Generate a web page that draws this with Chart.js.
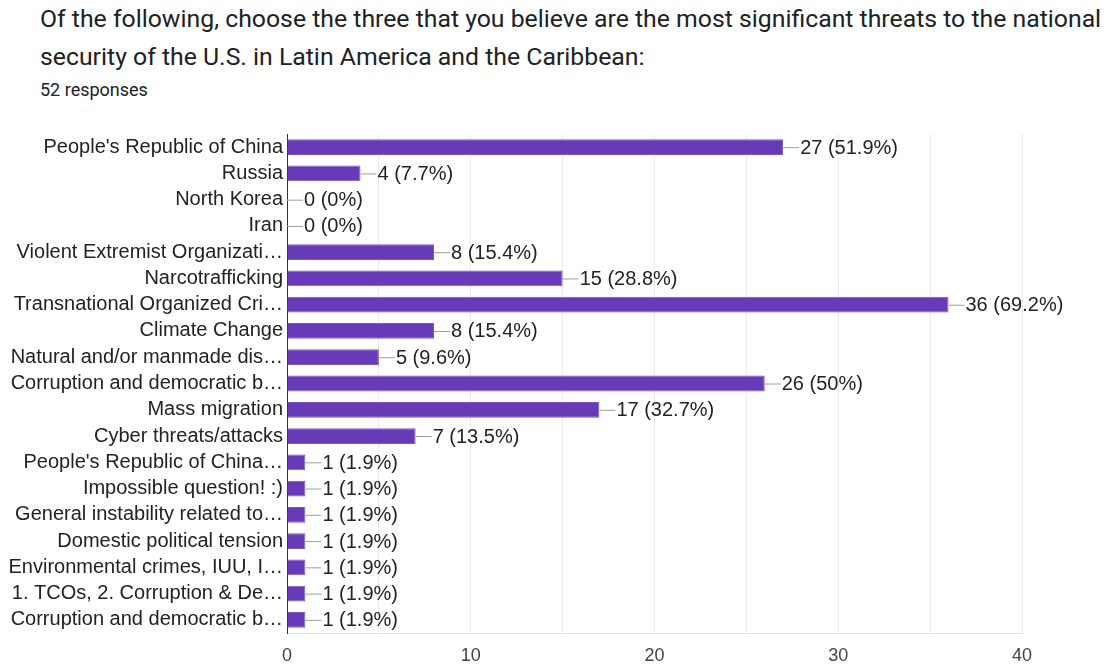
<!DOCTYPE html>
<html>
<head>
<meta charset="utf-8">
<script src="https://cdn.jsdelivr.net/npm/chart.js@4"></script>
<style>
  body { margin: 0; background: #fff; width: 1104px; height: 666px; overflow: hidden; position: relative; font-family: Roboto, Arial, sans-serif; }
  .title { position: absolute; left: 40px; top: 0px; font-size: 24.8px; line-height: 38px; color: #202124; white-space: nowrap; }
  .sub { position: absolute; left: 40px; top: 80px; font-size: 18px; line-height: 20px; color: #202124; }
  #wrap { position: absolute; left: 0; top: 110px; width: 1104px; height: 556px; }
</style>
</head>
<body>
<div class="title">Of the following, choose the three that you believe are the most significant threats to the national<br>security of the U.S. in Latin America and the Caribbean:</div>
<div class="sub">52 responses</div>
<div id="wrap"><canvas id="chart" width="1104" height="556"></canvas></div>
<script>
const categories = [
  "People's Republic of China",
  "Russia",
  "North Korea",
  "Iran",
  "Violent Extremist Organizati\u2026",
  "Narcotrafficking",
  "Transnational Organized Cri\u2026",
  "Climate Change",
  "Natural and/or manmade dis\u2026",
  "Corruption and democratic b\u2026",
  "Mass migration",
  "Cyber threats/attacks",
  "People's Republic of China\u2026",
  "Impossible question! :)",
  "General instability related to\u2026",
  "Domestic political tension",
  "Environmental crimes, IUU, I\u2026",
  "1. TCOs, 2. Corruption & De\u2026",
  "Corruption and democratic b\u2026"
];
const counts = [27, 4, 0, 0, 8, 15, 36, 8, 5, 26, 17, 7, 1, 1, 1, 1, 1, 1, 1];
const percents = ["51.9%", "7.7%", "0%", "0%", "15.4%", "28.8%", "69.2%", "15.4%", "9.6%", "50%", "32.7%", "13.5%",
  "1.9%", "1.9%", "1.9%", "1.9%", "1.9%", "1.9%", "1.9%"];
const xTicks = [0, 10, 20, 30, 40];

const labelFont = '20px "Liberation Sans", Arial, sans-serif';

// leader line + "n (p%)" after each bar
const barLabels = {
  id: "barLabels",
  afterDatasetsDraw(chart) {
    const ctx = chart.ctx;
    const meta = chart.getDatasetMeta(0);
    ctx.save();
    ctx.font = labelFont;
    ctx.textBaseline = "middle";
    meta.data.forEach((bar, i) => {
      const x = bar.x;
      const y = bar.y;
      ctx.strokeStyle = "#9e9e9e";
      ctx.lineWidth = 1;
      ctx.beginPath();
      ctx.moveTo(x, y + 0.5);
      ctx.lineTo(x + 16, y + 0.5);
      ctx.stroke();
      ctx.fillStyle = "#222";
      ctx.fillText(counts[i] + " (" + percents[i] + ")", x + 17, y + 1);
    });
    ctx.restore();
  }
};

new Chart(document.getElementById("chart"), {
  type: "bar",
  data: {
    labels: categories,
    datasets: [{
      data: counts,
      backgroundColor: "#673ab7",
      borderColor: "#7e57c2",
      borderWidth: 1,
      barPercentage: 0.6,
      categoryPercentage: 1
    }]
  },
  options: {
    indexAxis: "y",
    responsive: false,
    animation: false,
    layout: { padding: { top: 24, right: 82, left: 0, bottom: 0 } },
    plugins: { legend: { display: false }, tooltip: { enabled: false } },
    scales: {
      x: {
        min: 0,
        max: 40,
        afterFit(scale) { scale.height = 33; },
        afterBuildTicks(scale) {
          scale.ticks = [];
          for (let v = 0; v <= 40; v += 5) scale.ticks.push({ value: v });
        },
        grid: { color: "#ebebeb", drawTicks: false },
        border: { color: "#e0e0e0" },
        ticks: {
          padding: 12,
          color: "#444",
          font: { family: '"Liberation Sans", Arial, sans-serif', size: 18 },
          callback: (v) => (xTicks.includes(v) ? String(v) : "")
        }
      },
      y: {
        afterFit(scale) { scale.width = 287; },
        grid: { display: false, drawTicks: false },
        border: { color: "#333", width: 1 },
        ticks: {
          padding: 4,
          color: "#222",
          autoSkip: false,
          font: { family: '"Liberation Sans", Arial, sans-serif', size: 20 }
        }
      }
    }
  },
  plugins: [barLabels]
});
</script>
</body>
</html>
